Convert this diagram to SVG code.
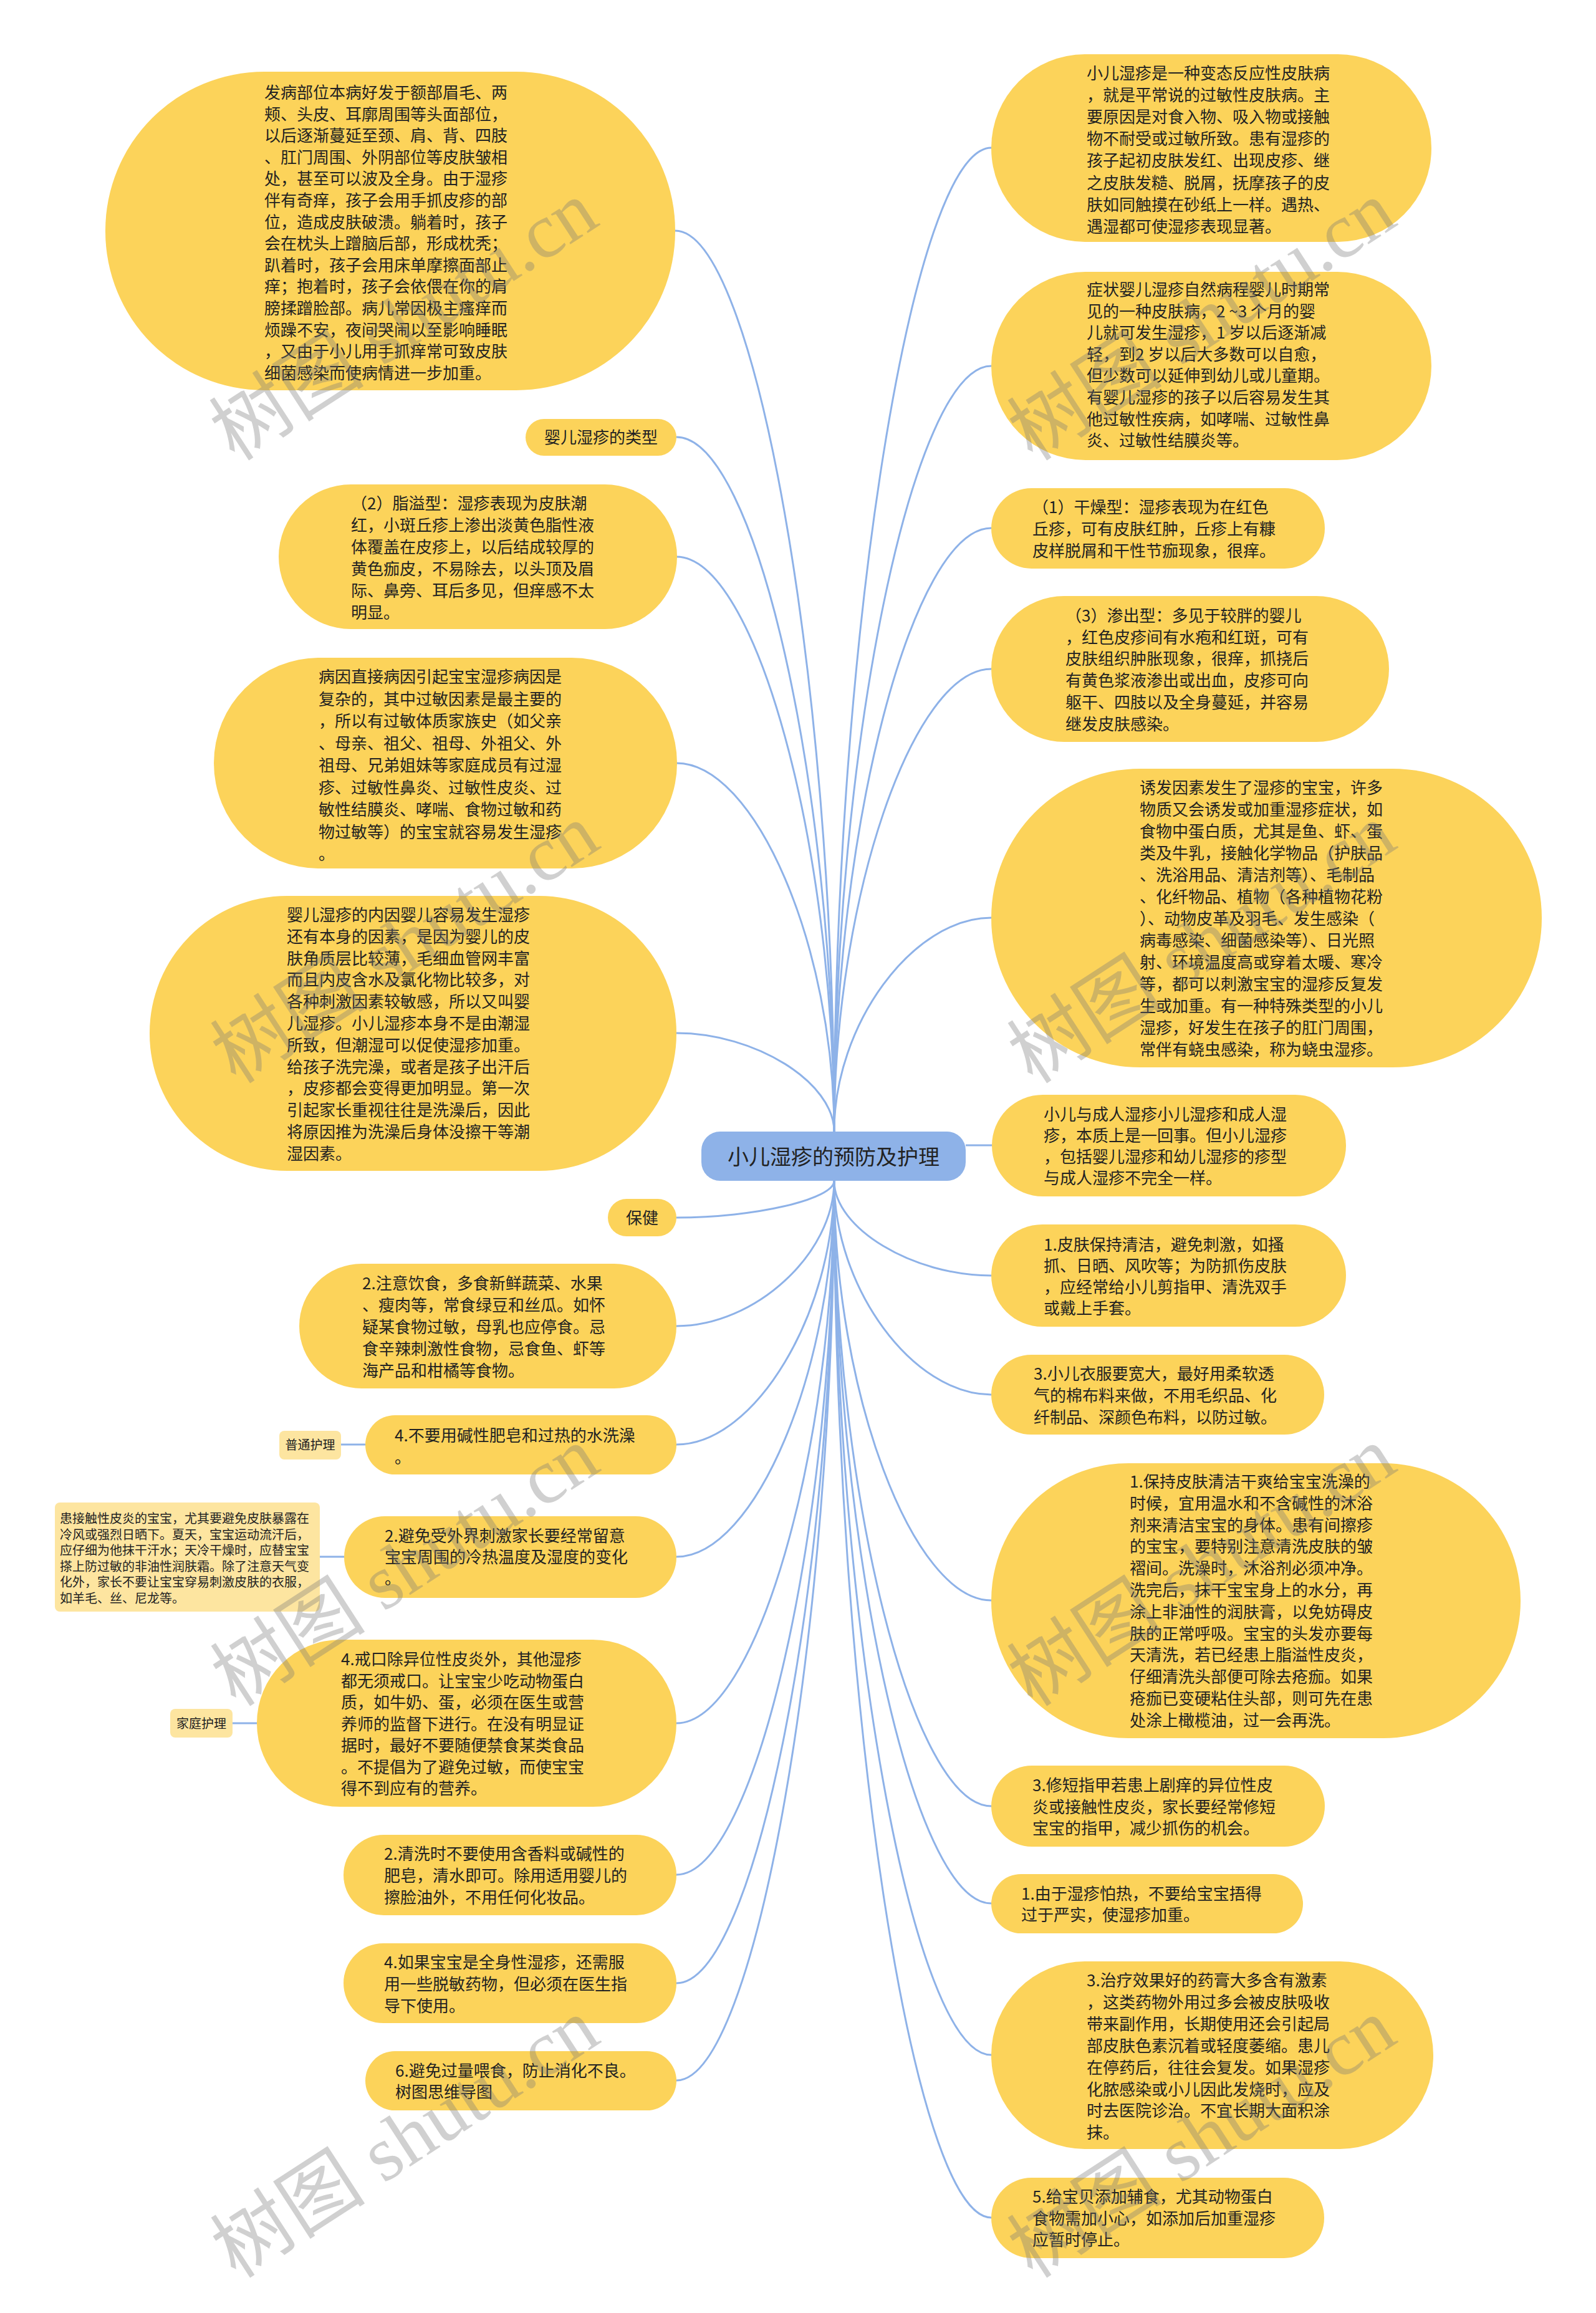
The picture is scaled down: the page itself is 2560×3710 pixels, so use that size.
<svg xmlns="http://www.w3.org/2000/svg" width="2560" height="3710" viewBox="0 0 2560 3710">
<style>
.bg{fill:#ffffff}
.n{fill:#FCD35A}
.s{fill:#FDE5A0}
.ctr{fill:#8EB2E8}
.t{font-family:"Noto Sans CJK SC","Noto Sans",sans-serif;font-size:26px;fill:#222222}
.ts{font-size:20px}
.tc{font-size:34px;fill:#222222}
.m{text-anchor:middle}
.c{fill:none;stroke:#8EB2E8;stroke-width:3}
.wm{font-family:"Liberation Serif","Noto Sans CJK SC",serif;font-size:125px;fill:#777777;fill-opacity:0.35;text-anchor:middle}
</style>
<rect class="bg" x="0" y="0" width="2560" height="3710"/>
<g id="connectors">
<path class="c" d="M1338,1815 C1338,1092.5 1210.5,370 1083,370"/>
<path class="c" d="M1338,1815 C1338,1258 1211.5,701 1085,701"/>
<path class="c" d="M1338,1815 C1338,1354 1211.5,893 1085,893"/>
<path class="c" d="M1338,1815 C1338,1519.5 1211.5,1224 1085,1224"/>
<path class="c" d="M1338,1815 C1338,1736 1211.5,1657 1085,1657"/>
<path class="c" d="M1338,1894 C1338,1923.5 1211.5,1953 1085,1953"/>
<path class="c" d="M1338,1894 C1338,2010.5 1211.5,2127 1085,2127"/>
<path class="c" d="M1338,1894 C1338,2105.5 1211.5,2317 1085,2317"/>
<path class="c" d="M1338,1894 C1338,2195.5 1211.5,2497 1085,2497"/>
<path class="c" d="M1338,1894 C1338,2329 1211.5,2764 1085,2764"/>
<path class="c" d="M1338,1894 C1338,2450.5 1211.5,3007 1085,3007"/>
<path class="c" d="M1338,1894 C1338,2537.5 1211.5,3181 1085,3181"/>
<path class="c" d="M1338,1894 C1338,2615.5 1211.5,3337 1085,3337"/>
<path class="c" d="M1338,1815 C1338,1026 1464,237 1590,237"/>
<path class="c" d="M1338,1815 C1338,1201 1464,587 1590,587"/>
<path class="c" d="M1338,1815 C1338,1331 1464,847 1590,847"/>
<path class="c" d="M1338,1815 C1338,1444 1464,1073 1590,1073"/>
<path class="c" d="M1338,1815 C1338,1643.5 1464,1472 1590,1472"/>
<path class="c" d="M1549,1837 L1591,1837"/>
<path class="c" d="M1338,1894 C1338,1970 1464,2046 1590,2046"/>
<path class="c" d="M1338,1894 C1338,2065.5 1464,2237 1590,2237"/>
<path class="c" d="M1338,1894 C1338,2230.5 1464,2567 1590,2567"/>
<path class="c" d="M1338,1894 C1338,2395.5 1464,2897 1590,2897"/>
<path class="c" d="M1338,1894 C1338,2473.5 1464,3053 1590,3053"/>
<path class="c" d="M1338,1894 C1338,2595 1464,3296 1590,3296"/>
<path class="c" d="M1338,1894 C1338,2725.5 1464,3557 1590,3557"/>
<path class="c" d="M547,2317 L586,2317"/>
<path class="c" d="M513,2497 L552,2497"/>
<path class="c" d="M373,2764 L412,2764"/>
</g>
<g id="center">
<rect class="ctr" x="1125" y="1815" width="424" height="79" rx="30" ry="30"/>
<text class="t tc m" x="1337" y="1868">小儿湿疹的预防及护理</text>
</g>
<g id="L1">
<rect class="n" x="169" y="115" width="914" height="511" rx="255" ry="255"/>
<text class="t" x="424" y="158"><tspan x="424" y="158">发病部位本病好发于额部眉毛、两</tspan><tspan x="424" dy="34.6">颊、头皮、耳廓周围等头面部位，</tspan><tspan x="424" dy="34.6">以后逐渐蔓延至颈、肩、背、四肢</tspan><tspan x="424" dy="34.6">、肛门周围、外阴部位等皮肤皱相</tspan><tspan x="424" dy="34.6">处，甚至可以波及全身。由于湿疹</tspan><tspan x="424" dy="34.6">伴有奇痒，孩子会用手抓皮疹的部</tspan><tspan x="424" dy="34.6">位，造成皮肤破溃。躺着时，孩子</tspan><tspan x="424" dy="34.6">会在枕头上蹭脑后部，形成枕秃；</tspan><tspan x="424" dy="34.6">趴着时，孩子会用床单摩擦面部止</tspan><tspan x="424" dy="34.6">痒；抱着时，孩子会依偎在你的肩</tspan><tspan x="424" dy="34.6">膀揉蹭脸部。病儿常因极主瘙痒而</tspan><tspan x="424" dy="34.6">烦躁不安，夜间哭闹以至影响睡眠</tspan><tspan x="424" dy="34.6">，又由于小儿用手抓痒常可致皮肤</tspan><tspan x="424" dy="34.6">细菌感染而使病情进一步加重。</tspan></text>
</g>
<g id="L2">
<rect class="n" x="843" y="672" width="242" height="59" rx="29.5" ry="29.5"/>
<text class="t m" x="964" y="711">婴儿湿疹的类型</text>
</g>
<g id="L3">
<rect class="n" x="447" y="777" width="639" height="232" rx="116" ry="116"/>
<text class="t" x="563" y="816.5"><tspan x="563" y="816.5">（2）脂溢型：湿疹表现为皮肤潮</tspan><tspan x="563" dy="35.1">红，小斑丘疹上渗出淡黄色脂性液</tspan><tspan x="563" dy="35.1">体覆盖在皮疹上，以后结成较厚的</tspan><tspan x="563" dy="35.1">黄色痂皮，不易除去，以头顶及眉</tspan><tspan x="563" dy="35.1">际、鼻旁、耳后多见，但痒感不太</tspan><tspan x="563" dy="35.1">明显。</tspan></text>
</g>
<g id="L4">
<rect class="n" x="343" y="1055" width="743" height="338" rx="169" ry="169"/>
<text class="t" x="511" y="1095"><tspan x="511" y="1095">病因直接病因引起宝宝湿疹病因是</tspan><tspan x="511" dy="35.5">复杂的，其中过敏因素是最主要的</tspan><tspan x="511" dy="35.5">，所以有过敏体质家族史（如父亲</tspan><tspan x="511" dy="35.5">、母亲、祖父、祖母、外祖父、外</tspan><tspan x="511" dy="35.5">祖母、兄弟姐妹等家庭成员有过湿</tspan><tspan x="511" dy="35.5">疹、过敏性鼻炎、过敏性皮炎、过</tspan><tspan x="511" dy="35.5">敏性结膜炎、哮喘、食物过敏和药</tspan><tspan x="511" dy="35.5">物过敏等）的宝宝就容易发生湿疹</tspan><tspan x="511" dy="35.5">。</tspan></text>
</g>
<g id="L5">
<rect class="n" x="240" y="1437" width="845" height="441" rx="220" ry="220"/>
<text class="t" x="460" y="1477"><tspan x="460" y="1477">婴儿湿疹的内因婴儿容易发生湿疹</tspan><tspan x="460" dy="34.8">还有本身的因素，是因为婴儿的皮</tspan><tspan x="460" dy="34.8">肤角质层比较薄，毛细血管网丰富</tspan><tspan x="460" dy="34.8">而且内皮含水及氯化物比较多，对</tspan><tspan x="460" dy="34.8">各种刺激因素较敏感，所以又叫婴</tspan><tspan x="460" dy="34.8">儿湿疹。小儿湿疹本身不是由潮湿</tspan><tspan x="460" dy="34.8">所致，但潮湿可以促使湿疹加重。</tspan><tspan x="460" dy="34.8">给孩子洗完澡，或者是孩子出汗后</tspan><tspan x="460" dy="34.8">，皮疹都会变得更加明显。第一次</tspan><tspan x="460" dy="34.8">引起家长重视往往是洗澡后，因此</tspan><tspan x="460" dy="34.8">将原因推为洗澡后身体没擦干等潮</tspan><tspan x="460" dy="34.8">湿因素。</tspan></text>
</g>
<g id="L6">
<rect class="n" x="975" y="1923" width="110" height="60" rx="30" ry="30"/>
<text class="t m" x="1030" y="1963">保健</text>
</g>
<g id="L7">
<rect class="n" x="480" y="2027" width="605" height="200" rx="100" ry="100"/>
<text class="t" x="581" y="2068"><tspan x="581" y="2068">2.注意饮食，多食新鲜蔬菜、水果</tspan><tspan x="581" dy="35">、瘦肉等，常食绿豆和丝瓜。如怀</tspan><tspan x="581" dy="35">疑某食物过敏，母乳也应停食。忌</tspan><tspan x="581" dy="35">食辛辣刺激性食物，忌食鱼、虾等</tspan><tspan x="581" dy="35">海产品和柑橘等食物。</tspan></text>
</g>
<g id="L8">
<rect class="n" x="586" y="2270" width="499" height="95" rx="47.5" ry="47.5"/>
<text class="t" x="633" y="2312"><tspan x="633" y="2312">4.不要用碱性肥皂和过热的水洗澡</tspan><tspan x="633" dy="35">。</tspan></text>
</g>
<g id="L8a">
<rect class="s" x="448" y="2295" width="99" height="46" rx="8" ry="8"/>
<text class="t ts m" x="497.5" y="2325">普通护理</text>
</g>
<g id="L9">
<rect class="s" x="88" y="2410" width="425" height="175" rx="8" ry="8"/>
<text class="t ts" x="96" y="2443"><tspan x="96" y="2443">患接触性皮炎的宝宝，尤其要避免皮肤暴露在</tspan><tspan x="96" dy="25.6">冷风或强烈日晒下。夏天，宝宝运动流汗后，</tspan><tspan x="96" dy="25.6">应仔细为他抹干汗水；天冷干燥时，应替宝宝</tspan><tspan x="96" dy="25.6">搽上防过敏的非油性润肤霜。除了注意天气变</tspan><tspan x="96" dy="25.6">化外，家长不要让宝宝穿易刺激皮肤的衣服，</tspan><tspan x="96" dy="25.6">如羊毛、丝、尼龙等。</tspan></text>
</g>
<g id="L10">
<rect class="n" x="552" y="2432" width="533" height="131" rx="65.5" ry="65.5"/>
<text class="t" x="617" y="2473"><tspan x="617" y="2473">2.避免受外界刺激家长要经常留意</tspan><tspan x="617" dy="34">宝宝周围的冷热温度及湿度的变化</tspan><tspan x="617" dy="34">。</tspan></text>
</g>
<g id="L11">
<rect class="n" x="412" y="2630" width="673" height="268" rx="134" ry="134"/>
<text class="t" x="547" y="2671"><tspan x="547" y="2671">4.戒口除异位性皮炎外，其他湿疹</tspan><tspan x="547" dy="34.5">都无须戒口。让宝宝少吃动物蛋白</tspan><tspan x="547" dy="34.5">质，如牛奶、蛋，必须在医生或营</tspan><tspan x="547" dy="34.5">养师的监督下进行。在没有明显证</tspan><tspan x="547" dy="34.5">据时，最好不要随便禁食某类食品</tspan><tspan x="547" dy="34.5">。不提倡为了避免过敏，而使宝宝</tspan><tspan x="547" dy="34.5">得不到应有的营养。</tspan></text>
</g>
<g id="L11a">
<rect class="s" x="273" y="2741" width="100" height="46" rx="8" ry="8"/>
<text class="t ts m" x="323" y="2772">家庭护理</text>
</g>
<g id="L12">
<rect class="n" x="551" y="2943" width="534" height="129" rx="64.5" ry="64.5"/>
<text class="t" x="616" y="2983"><tspan x="616" y="2983">2.清洗时不要使用含香料或碱性的</tspan><tspan x="616" dy="35">肥皂，清水即可。除用适用婴儿的</tspan><tspan x="616" dy="35">擦脸油外，不用任何化妆品。</tspan></text>
</g>
<g id="L13">
<rect class="n" x="551" y="3117" width="534" height="128" rx="64" ry="64"/>
<text class="t" x="616" y="3157"><tspan x="616" y="3157">4.如果宝宝是全身性湿疹，还需服</tspan><tspan x="616" dy="35">用一些脱敏药物，但必须在医生指</tspan><tspan x="616" dy="35">导下使用。</tspan></text>
</g>
<g id="L14">
<rect class="n" x="586" y="3290" width="499" height="95" rx="47.5" ry="47.5"/>
<text class="t" x="634" y="3331"><tspan x="634" y="3331">6.避免过量喂食，防止消化不良。</tspan><tspan x="634" dy="34">树图思维导图</tspan></text>
</g>
<g id="R1">
<rect class="n" x="1590" y="87" width="706" height="301" rx="150" ry="150"/>
<text class="t" x="1743" y="126.6"><tspan x="1743" y="126.6">小儿湿疹是一种变态反应性皮肤病</tspan><tspan x="1743" dy="35.2">，就是平常说的过敏性皮肤病。主</tspan><tspan x="1743" dy="35.2">要原因是对食入物、吸入物或接触</tspan><tspan x="1743" dy="35.2">物不耐受或过敏所致。患有湿疹的</tspan><tspan x="1743" dy="35.2">孩子起初皮肤发红、出现皮疹、继</tspan><tspan x="1743" dy="35.2">之皮肤发糙、脱屑，抚摩孩子的皮</tspan><tspan x="1743" dy="35.2">肤如同触摸在砂纸上一样。遇热、</tspan><tspan x="1743" dy="35.2">遇湿都可使湿疹表现显著。</tspan></text>
</g>
<g id="R2">
<rect class="n" x="1590" y="436" width="706" height="302" rx="151" ry="151"/>
<text class="t" x="1743" y="474"><tspan x="1743" y="474">症状婴儿湿疹自然病程婴儿时期常</tspan><tspan x="1743" dy="34.6">见的一种皮肤病，2 ~3 个月的婴</tspan><tspan x="1743" dy="34.6">儿就可发生湿疹，1 岁以后逐渐减</tspan><tspan x="1743" dy="34.6">轻，到2 岁以后大多数可以自愈，</tspan><tspan x="1743" dy="34.6">但少数可以延伸到幼儿或儿童期。</tspan><tspan x="1743" dy="34.6">有婴儿湿疹的孩子以后容易发生其</tspan><tspan x="1743" dy="34.6">他过敏性疾病，如哮喘、过敏性鼻</tspan><tspan x="1743" dy="34.6">炎、过敏性结膜炎等。</tspan></text>
</g>
<g id="R3">
<rect class="n" x="1590" y="783" width="535" height="129" rx="64.5" ry="64.5"/>
<text class="t" x="1656" y="823"><tspan x="1656" y="823">（1）干燥型：湿疹表现为在红色</tspan><tspan x="1656" dy="35">丘疹，可有皮肤红肿，丘疹上有糠</tspan><tspan x="1656" dy="35">皮样脱屑和干性节痂现象，很痒。</tspan></text>
</g>
<g id="R4">
<rect class="n" x="1590" y="956" width="638" height="234" rx="117" ry="117"/>
<text class="t" x="1709" y="997"><tspan x="1709" y="997">（3）渗出型：多见于较胖的婴儿</tspan><tspan x="1709" dy="34.7">，红色皮疹间有水疱和红斑，可有</tspan><tspan x="1709" dy="34.7">皮肤组织肿胀现象，很痒，抓挠后</tspan><tspan x="1709" dy="34.7">有黄色浆液渗出或出血，皮疹可向</tspan><tspan x="1709" dy="34.7">躯干、四肢以及全身蔓延，并容易</tspan><tspan x="1709" dy="34.7">继发皮肤感染。</tspan></text>
</g>
<g id="R5">
<rect class="n" x="1590" y="1233" width="883" height="479" rx="239" ry="239"/>
<text class="t" x="1828" y="1273"><tspan x="1828" y="1273">诱发因素发生了湿疹的宝宝，许多</tspan><tspan x="1828" dy="35">物质又会诱发或加重湿疹症状，如</tspan><tspan x="1828" dy="35">食物中蛋白质，尤其是鱼、虾、蛋</tspan><tspan x="1828" dy="35">类及牛乳，接触化学物品（护肤品</tspan><tspan x="1828" dy="35">、洗浴用品、清洁剂等）、毛制品</tspan><tspan x="1828" dy="35">、化纤物品、植物（各种植物花粉</tspan><tspan x="1828" dy="35">）、动物皮革及羽毛、发生感染（</tspan><tspan x="1828" dy="35">病毒感染、细菌感染等）、日光照</tspan><tspan x="1828" dy="35">射、环境温度高或穿着太暖、寒冷</tspan><tspan x="1828" dy="35">等，都可以刺激宝宝的湿疹反复发</tspan><tspan x="1828" dy="35">生或加重。有一种特殊类型的小儿</tspan><tspan x="1828" dy="35">湿疹，好发生在孩子的肛门周围，</tspan><tspan x="1828" dy="35">常伴有蛲虫感染，称为蛲虫湿疹。</tspan></text>
</g>
<g id="R6">
<rect class="n" x="1591" y="1756" width="568" height="163" rx="81.5" ry="81.5"/>
<text class="t" x="1674" y="1797"><tspan x="1674" y="1797">小儿与成人湿疹小儿湿疹和成人湿</tspan><tspan x="1674" dy="34">疹，本质上是一回事。但小儿湿疹</tspan><tspan x="1674" dy="34">，包括婴儿湿疹和幼儿湿疹的疹型</tspan><tspan x="1674" dy="34">与成人湿疹不完全一样。</tspan></text>
</g>
<g id="R7">
<rect class="n" x="1590" y="1964" width="569" height="164" rx="82" ry="82"/>
<text class="t" x="1674" y="2006"><tspan x="1674" y="2006">1.皮肤保持清洁，避免刺激，如搔</tspan><tspan x="1674" dy="34">抓、日晒、风吹等；为防抓伤皮肤</tspan><tspan x="1674" dy="34">，应经常给小儿剪指甲、清洗双手</tspan><tspan x="1674" dy="34">或戴上手套。</tspan></text>
</g>
<g id="R8">
<rect class="n" x="1590" y="2173" width="534" height="128" rx="64" ry="64"/>
<text class="t" x="1658" y="2213"><tspan x="1658" y="2213">3.小儿衣服要宽大，最好用柔软透</tspan><tspan x="1658" dy="35">气的棉布料来做，不用毛织品、化</tspan><tspan x="1658" dy="35">纤制品、深颜色布料，以防过敏。</tspan></text>
</g>
<g id="R9">
<rect class="n" x="1590" y="2347" width="849" height="441" rx="220" ry="220"/>
<text class="t" x="1812" y="2386"><tspan x="1812" y="2386">1.保持皮肤清洁干爽给宝宝洗澡的</tspan><tspan x="1812" dy="34.8">时候，宜用温水和不含碱性的沐浴</tspan><tspan x="1812" dy="34.8">剂来清洁宝宝的身体。患有间擦疹</tspan><tspan x="1812" dy="34.8">的宝宝，要特别注意清洗皮肤的皱</tspan><tspan x="1812" dy="34.8">褶间。洗澡时，沐浴剂必须冲净。</tspan><tspan x="1812" dy="34.8">洗完后，抹干宝宝身上的水分，再</tspan><tspan x="1812" dy="34.8">涂上非油性的润肤膏，以免妨碍皮</tspan><tspan x="1812" dy="34.8">肤的正常呼吸。宝宝的头发亦要每</tspan><tspan x="1812" dy="34.8">天清洗，若已经患上脂溢性皮炎，</tspan><tspan x="1812" dy="34.8">仔细清洗头部便可除去疮痂。如果</tspan><tspan x="1812" dy="34.8">疮痂已变硬粘住头部，则可先在患</tspan><tspan x="1812" dy="34.8">处涂上橄榄油，过一会再洗。</tspan></text>
</g>
<g id="R10">
<rect class="n" x="1590" y="2832" width="535" height="130" rx="65" ry="65"/>
<text class="t" x="1656" y="2873"><tspan x="1656" y="2873">3.修短指甲若患上剧痒的异位性皮</tspan><tspan x="1656" dy="34.5">炎或接触性皮炎，家长要经常修短</tspan><tspan x="1656" dy="34.5">宝宝的指甲，减少抓伤的机会。</tspan></text>
</g>
<g id="R11">
<rect class="n" x="1590" y="3006" width="500" height="95" rx="47.5" ry="47.5"/>
<text class="t" x="1638" y="3047"><tspan x="1638" y="3047">1.由于湿疹怕热，不要给宝宝捂得</tspan><tspan x="1638" dy="34">过于严实，使湿疹加重。</tspan></text>
</g>
<g id="R12">
<rect class="n" x="1590" y="3146" width="709" height="301" rx="150" ry="150"/>
<text class="t" x="1743" y="3186"><tspan x="1743" y="3186">3.治疗效果好的药膏大多含有激素</tspan><tspan x="1743" dy="34.9">，这类药物外用过多会被皮肤吸收</tspan><tspan x="1743" dy="34.9">带来副作用，长期使用还会引起局</tspan><tspan x="1743" dy="34.9">部皮肤色素沉着或轻度萎缩。患儿</tspan><tspan x="1743" dy="34.9">在停药后，往往会复发。如果湿疹</tspan><tspan x="1743" dy="34.9">化脓感染或小儿因此发烧时，应及</tspan><tspan x="1743" dy="34.9">时去医院诊治。不宜长期大面积涂</tspan><tspan x="1743" dy="34.9">抹。</tspan></text>
</g>
<g id="R13">
<rect class="n" x="1590" y="3493" width="534" height="129" rx="64.5" ry="64.5"/>
<text class="t" x="1656" y="3533"><tspan x="1656" y="3533">5.给宝贝添加辅食，尤其动物蛋白</tspan><tspan x="1656" dy="34.5">食物需加小心，如添加后加重湿疹</tspan><tspan x="1656" dy="34.5">应暂时停止。</tspan></text>
</g>
<g id="watermarks">
<text class="wm" transform="translate(648,515) rotate(-33)" x="0" y="42">树图 shutu.cn</text>
<text class="wm" transform="translate(1928,515) rotate(-33)" x="0" y="42">树图 shutu.cn</text>
<text class="wm" transform="translate(650,1514) rotate(-33)" x="0" y="42">树图 shutu.cn</text>
<text class="wm" transform="translate(1928,1514) rotate(-33)" x="0" y="42">树图 shutu.cn</text>
<text class="wm" transform="translate(650,2513) rotate(-33)" x="0" y="42">树图 shutu.cn</text>
<text class="wm" transform="translate(1928,2513) rotate(-33)" x="0" y="42">树图 shutu.cn</text>
<text class="wm" transform="translate(650,3430) rotate(-33)" x="0" y="42">树图 shutu.cn</text>
<text class="wm" transform="translate(1928,3430) rotate(-33)" x="0" y="42">树图 shutu.cn</text>
</g>
</svg>
